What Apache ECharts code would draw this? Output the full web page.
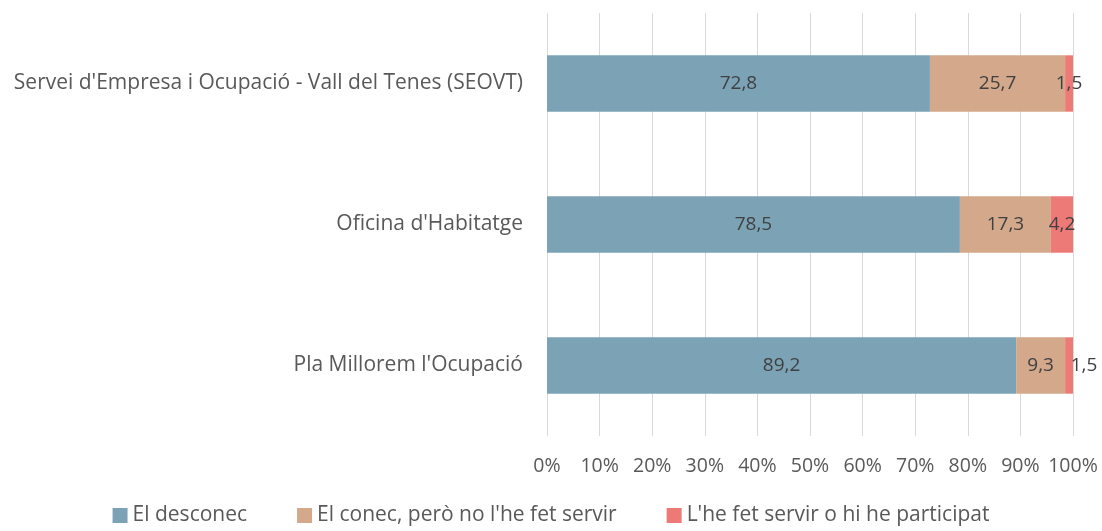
<!DOCTYPE html>
<html><head><meta charset="utf-8">
<script src="https://cdn.jsdelivr.net/npm/echarts@6/dist/echarts.min.js"></script>
<style>html,body{margin:0;padding:0;background:#fff}#c{width:1102px;height:531px}</style>
</head><body><div id="c"></div>
<script>
const categories = ["Servei d'Empresa i Ocupació - Vall del Tenes (SEOVT)", "Oficina d'Habitatge", "Pla Millorem l'Ocupació"];
const seriesNames = ["El desconec", "El conec, però no l'he fet servir", "L'he fet servir o hi he participat"];
const desconec = [72.8, 78.5, 89.2];
const conec = [25.7, 17.3, 9.3];
const participat = [1.5, 4.2, 1.5];
const colors = ["#7BA3B5", "#D4A88A", "#EE7A77"];
const FONT = "Open Sans";
const fmt = p => p.value.toFixed(1).replace('.', ',');
const mk = (name, data, color) => ({
  name, type: 'bar', stack: 'total', data, barCategoryGap: '60%',
  itemStyle: {color},
  label: {show: true, position: 'inside', formatter: fmt, color: '#404040', fontSize: 19, fontFamily: FONT},
  labelLayout: {hideOverlap: false}
});
// last series: nudge the label of the narrow segment next to a narrow neighbour (as Excel does)
const lastSeries = mk(seriesNames[2], participat, colors[2]);
lastSeries.labelLayout = p => (conec[p.dataIndex] < 12 ? {dx: 15, hideOverlap: false} : {hideOverlap: false});
const chart = echarts.init(document.getElementById('c'));
chart.setOption({
  animation: false,
  textStyle: {fontFamily: FONT},
  grid: {left: 547, right: 29, top: 13, bottom: 95, containLabel: false},
  xAxis: {
    type: 'value', min: 0, max: 100, interval: 10,
    axisLabel: {formatter: v => v + '%', color: '#595959', fontSize: 19.5, fontFamily: FONT, margin: 20},
    splitLine: {show: true, lineStyle: {color: '#D9D9D9', width: 1}},
    axisLine: {show: false}, axisTick: {show: false}
  },
  yAxis: {
    type: 'category', data: categories, inverse: true,
    axisLabel: {color: '#595959', fontSize: 21, fontFamily: FONT, margin: 24},
    axisLine: {show: false}, axisTick: {show: false}
  },
  legend: {
    bottom: 0, left: 'center', itemWidth: 15, itemHeight: 15, itemGap: 50, icon: 'rect',
    textStyle: {color: '#595959', fontSize: 21, fontFamily: FONT}
  },
  series: [mk(seriesNames[0], desconec, colors[0]), mk(seriesNames[1], conec, colors[1]), lastSeries]
});
</script></body></html>
